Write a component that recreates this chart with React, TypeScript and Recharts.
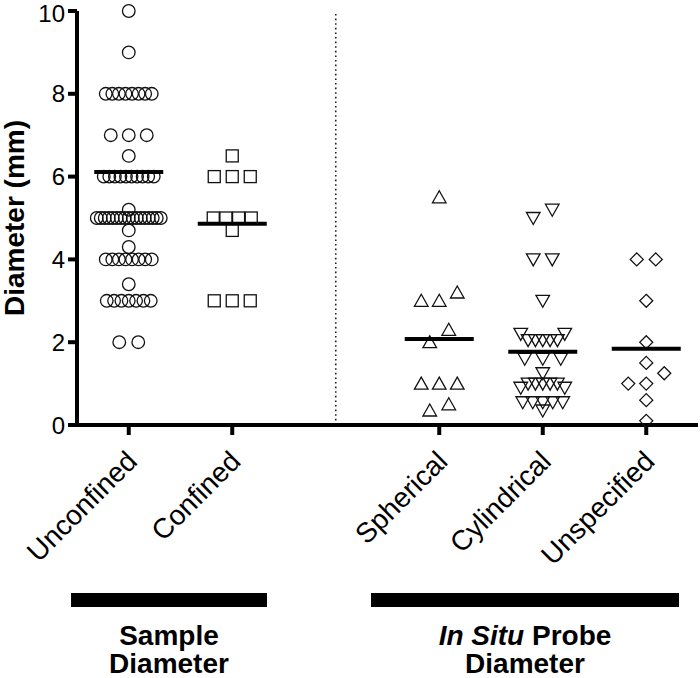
import React from "react";
import { ScatterChart, Scatter, XAxis, YAxis, ReferenceLine } from "recharts";

// values (mm)
const categories = ["Unconfined", "Confined", "Spherical", "Cylindrical", "Unspecified"];
const unconfined = [
  10, 9,
  8, 8, 8, 8, 8, 8, 8, 8,
  7, 7, 7, 6.5,
  6, 6, 6, 6, 6, 6, 6, 6, 6, 6,
  5.2,
  5, 5, 5, 5, 5, 5, 5, 5, 5, 5, 5, 5, 5, 5, 5, 5, 5,
  4.7, 4.3,
  4, 4, 4, 4, 4, 4, 4, 4,
  3.4,
  3, 3, 3, 3, 3, 3, 3,
  2, 2,
];
const confined = [6.5, 6, 6, 6, 5, 5, 5, 5, 4.7, 3, 3, 3];
const spherical = [5.5, 3.2, 3, 3, 2.3, 2, 1, 1, 1, 0.5, 0.35];
const cylindrical = [
  5.2, 5, 4, 4, 3, 2.2, 2.2, 2.05, 2.05, 2.05, 2.05, 2.05, 1.6, 1.6, 1.6, 1.25,
  1, 1, 1, 1, 1, 0.9, 0.9, 0.55, 0.55, 0.55, 0.55, 0.55, 0.35,
];
const unspecified = [4, 4, 3, 2, 1.5, 1.25, 1, 1, 0.6, 0.1];
const meanValues = [6.11, 4.86, 2.08, 1.77, 1.84];
const yTicks = [0, 2, 4, 6, 8, 10];

// layout
const W = 700;
const H = 678;
const M = { top: 11, right: 2, left: 0, bottom: 0 };
const Y_AXIS_W = 77;
const X_AXIS_H = 253;
const SLOTS = 6;
const slotIndex = [0, 1, 3, 4, 5]; // slot 2 is the gap with the dotted divider
const bandPx = (W - Y_AXIS_W - M.right) / SLOTS;
const pxPerUnit = (H - M.top - X_AXIS_H) / 10;
const FONT = "'Liberation Sans', Arial, Helvetica, sans-serif";
const INK = "#111";

// Prism-like column scatter: close values share a row and get spread sideways
function spread(values: number[], center: number) {
  const sorted = [...values].sort((a, b) => a - b);
  const bins: number[][] = [];
  for (const v of sorted) {
    const last = bins[bins.length - 1];
    if (last && v - last[0] <= 0.3 + 1e-9) last.push(v);
    else bins.push([v]);
  }
  const pts: { x: number; y: number }[] = [];
  const put = (v: number, off: number) => pts.push({ x: center + off / bandPx, y: v });
  const rowOffsets = (n: number) => {
    const span = n === 1 ? 0 : Math.min((n - 1) * 19, 30 + 2 * n);
    return Array.from({ length: n }, (_, i) => (n === 1 ? 0 : -span / 2 + (span * i) / (n - 1)));
  };
  for (const bin of bins) {
    // biggest run of equal values in the bin
    const counts = new Map<number, number>();
    bin.forEach((v) => counts.set(v, (counts.get(v) || 0) + 1));
    let main = bin[0];
    counts.forEach((c, v) => {
      if (c > (counts.get(main) || 0)) main = v;
    });
    const mainN = counts.get(main) || 0;
    const extras = bin.filter((v) => v !== main);
    if (mainN < 2) {
      rowOffsets(bin.length).forEach((o, i) => put(bin[i], o));
    } else if (mainN >= 4 && extras.length === 1) {
      rowOffsets(mainN).forEach((o) => put(main, o));
      put(extras[0], 0);
    } else {
      // extras go to the ends of the row, right end first
      const row: number[] = Array(mainN).fill(main);
      extras.forEach((e, i) => (i % 2 === 0 ? row.push(e) : row.unshift(e)));
      rowOffsets(row.length).forEach((o, i) => put(row[i], o));
    }
  }
  return pts;
}

const centers = slotIndex.map((s) => s + 0.5);
const groups = [unconfined, confined, spherical, cylindrical, unspecified].map((vals, i) =>
  spread(vals, centers[i])
);
const means = meanValues.map((m, i) => ({ x: centers[i], y: m }));

const sw = 1.3;
const Circle = (p: any) => <circle cx={p.cx} cy={p.cy} r={6.3} fill="none" stroke={INK} strokeWidth={sw} />;
const Square = (p: any) => (
  <rect x={p.cx - 6} y={p.cy - 6} width={12} height={12} fill="none" stroke={INK} strokeWidth={sw} />
);
const TriUp = (p: any) => (
  <polygon
    points={`${p.cx},${p.cy - 6.5} ${p.cx + 6.8},${p.cy + 5.5} ${p.cx - 6.8},${p.cy + 5.5}`}
    fill="none"
    stroke={INK}
    strokeWidth={sw}
  />
);
const TriDown = (p: any) => (
  <polygon
    points={`${p.cx - 6.8},${p.cy - 5.5} ${p.cx + 6.8},${p.cy - 5.5} ${p.cx},${p.cy + 6.5}`}
    fill="none"
    stroke={INK}
    strokeWidth={sw}
  />
);
const Diamond = (p: any) => (
  <polygon
    points={`${p.cx},${p.cy - 6.5} ${p.cx + 6.5},${p.cy} ${p.cx},${p.cy + 6.5} ${p.cx - 6.5},${p.cy}`}
    fill="none"
    stroke={INK}
    strokeWidth={sw}
  />
);
const shapes = [Circle, Square, TriUp, TriDown, Diamond];

const MeanBar = (p: any) => (
  <line x1={p.cx - 34.5} x2={p.cx + 34.5} y1={p.cy} y2={p.cy} stroke="#000" strokeWidth={4} />
);

const XTick = (p: any) => {
  const i = centers.indexOf(p.payload.value);
  return (
    <text
      x={p.x + 10}
      y={p.y + 26}
      transform={`rotate(-45, ${p.x + 10}, ${p.y + 26})`}
      textAnchor="end"
      fontFamily={FONT}
      fontSize={28}
      fill="#000"
    >
      {categories[i]}
    </text>
  );
};

// keeps the top label ("10") inside the picture
const YTick = (p: any) => (
  <text
    x={p.x}
    y={Math.max(p.y, 13)}
    dy="0.355em"
    textAnchor="end"
    fontFamily={FONT}
    fontSize={24}
    fill="#000"
  >
    {p.payload.value}
  </text>
);

export default function App() {
  return (
    <div style={{ position: "absolute", left: 0, top: 0, width: W, height: H, background: "#fff" }}>
      <ScatterChart width={W} height={H} margin={M}>
        <XAxis
          type="number"
          dataKey="x"
          domain={[0, SLOTS]}
          ticks={centers}
          interval={0}
          height={X_AXIS_H}
          tickSize={10}
          axisLine={{ stroke: "#000", strokeWidth: 4 }}
          tickLine={{ stroke: "#000", strokeWidth: 4 }}
          tick={<XTick />}
        />
        <YAxis
          type="number"
          dataKey="y"
          domain={[0, 10]}
          ticks={yTicks}
          interval={0}
          width={Y_AXIS_W}
          tickSize={9}
          tickMargin={3}
          axisLine={{ stroke: "#000", strokeWidth: 4 }}
          tickLine={{ stroke: "#000", strokeWidth: 4 }}
          tick={<YTick />}
        />
        <ReferenceLine x={2.5} stroke="#222" strokeWidth={1.6} strokeDasharray="1.6 3" />
        {groups.map((g, i) => (
          <Scatter key={categories[i]} data={g} shape={shapes[i]} isAnimationActive={false} />
        ))}
        <Scatter data={means} shape={MeanBar} isAnimationActive={false} />
      </ScatterChart>
      <svg width={W} height={H} style={{ position: "absolute", left: 0, top: 0, pointerEvents: "none" }}>
        <text
          x={24}
          y={M.top + 5 * pxPerUnit}
          transform={`rotate(-90, 24, ${M.top + 5 * pxPerUnit})`}
          textAnchor="middle"
          fontFamily={FONT}
          fontWeight="bold"
          fontSize={28}
          fill="#000"
        >
          Diameter (mm)
        </text>
        <rect x={71} y={593} width={196} height={14} fill="#000" />
        <rect x={371} y={593} width={308} height={14} fill="#000" />
        <g fontFamily={FONT} fontWeight="bold" fontSize={28} fill="#000" textAnchor="middle">
          <text x={169} y={645}>Sample</text>
          <text x={169} y={673}>Diameter</text>
          <text x={525} y={645}>
            <tspan fontStyle="italic">In Situ</tspan> Probe
          </text>
          <text x={525} y={673}>Diameter</text>
        </g>
      </svg>
    </div>
  );
}
